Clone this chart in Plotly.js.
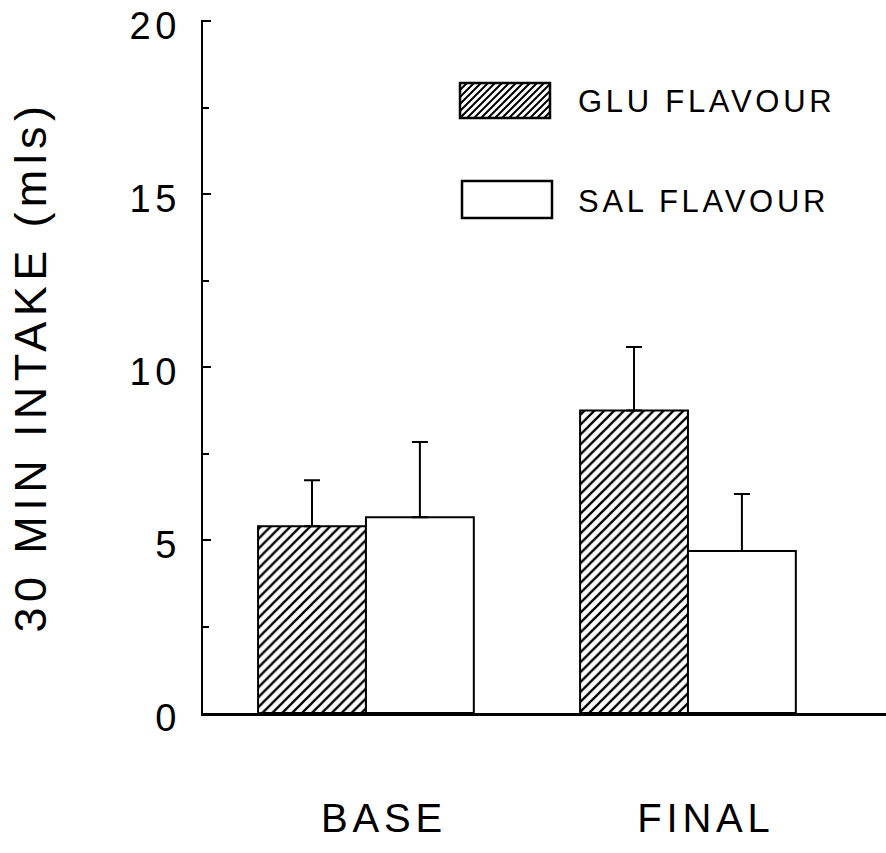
<!DOCTYPE html>
<html>
<head>
<meta charset="utf-8">
<script src="https://cdn.plot.ly/plotly-3.0.1.min.js"></script>
<style>
  html, body { margin: 0; padding: 0; background: #fff; }
  #chart { width: 886px; height: 853px; }
  /* typewriter-like spacing of the lettering */
  svg text { letter-spacing: 0.12em; }
</style>
</head>
<body>
<div id="chart"></div>
<script>
// Phases of the test
const phases = ['BASE', 'FINAL'];

// 30 min intake (mls), mean and SEM for each flavour
const gluMean = [5.40, 8.74];
const gluSem  = [1.33, 1.84];
const salMean = [5.66, 4.68];
const salSem  = [2.17, 1.65];

// Legend labels
const gluLabel = 'GLU FLAVOUR';
const salLabel = 'SAL FLAVOUR';

// Y axis tick values and labels
const yTickVals = [0, 5, 10, 15, 20];
const yTickText = ['0', '5', '10', '15', '20'];

const FONT = 'Liberation Sans, Arial, sans-serif';
const INK = '#000';

const zeros = phases.map(() => 0);

const glu = {
  type: 'bar', name: gluLabel, x: phases, y: gluMean,
  marker: {
    color: '#fff',
    line: { color: INK, width: 2 },
    pattern: { shape: '/', fgcolor: INK, bgcolor: '#fff', size: 7, solidity: 0.33 }
  },
  error_y: { type: 'data', symmetric: false, array: gluSem, arrayminus: zeros,
             color: INK, thickness: 2, width: 8 },
  hoverinfo: 'skip'
};
const sal = {
  type: 'bar', name: salLabel, x: phases, y: salMean,
  marker: { color: '#fff', line: { color: INK, width: 2 } },
  error_y: { type: 'data', symmetric: false, array: salSem, arrayminus: zeros,
             color: INK, thickness: 2, width: 8 },
  hoverinfo: 'skip'
};

// plot-area geometry in pixels, used to place the hand-drawn key
const L = 203, R = 886, T = 20, B = 713;
const px = v => (v - L) / (R - L);
const py = v => (B - v) / (B - T);

// key swatches
function hatchPath(x0, y0, x1, y1, step) {
  const h = y1 - y0;
  let d = '';
  for (let k = x0 - h; k < x1; k += step) {
    let sx = k, sy = y1, ex = k + h, ey = y0;
    if (sx < x0) { sy = y1 - (x0 - sx); sx = x0; }
    if (ex > x1) { ey = y0 + (ex - x1); ex = x1; }
    if (ex <= sx) continue;
    d += 'M' + px(sx).toFixed(5) + ',' + py(sy).toFixed(5) +
         'L' + px(ex).toFixed(5) + ',' + py(ey).toFixed(5);
  }
  return d;
}

const shapes = [
  { type: 'path', xref: 'paper', yref: 'paper', path: hatchPath(460, 83, 550, 118, 7),
    line: { color: INK, width: 2 } },
  { type: 'rect', xref: 'paper', yref: 'paper', x0: px(460), x1: px(550), y0: py(118), y1: py(83),
    line: { color: INK, width: 2.5 }, fillcolor: 'rgba(0,0,0,0)' },
  { type: 'rect', xref: 'paper', yref: 'paper', x0: px(462), x1: px(552), y0: py(218), y1: py(181),
    line: { color: INK, width: 2.5 }, fillcolor: 'rgba(0,0,0,0)' }
];

const annotations = [
  { xref: 'paper', yref: 'paper', x: px(576), y: py(102), xanchor: 'left', yanchor: 'middle',
    text: gluLabel, showarrow: false, font: { family: FONT, size: 31, color: INK } },
  { xref: 'paper', yref: 'paper', x: px(576), y: py(201), xanchor: 'left', yanchor: 'middle',
    text: salLabel, showarrow: false, font: { family: FONT, size: 31, color: INK } }
];

const layout = {
  width: 886, height: 853,
  margin: { l: L, r: 886 - R, t: T, b: 853 - B, pad: 0 },
  paper_bgcolor: '#fff', plot_bgcolor: '#fff',
  showlegend: false,
  barmode: 'group', bargap: 0.33, bargroupgap: 0,
  font: { family: FONT, color: INK },
  xaxis: {
    range: [-0.506, 1.615],
    showline: true, linecolor: INK, linewidth: 2.5,
    showgrid: false, zeroline: false, ticks: '',
    tickfont: { family: FONT, size: 40, color: INK },
    ticklabelstandoff: 68, ticklabelshift: 18
  },
  yaxis: {
    range: [0, 20.03],
    tickvals: yTickVals, ticktext: yTickText,
    showline: true, linecolor: INK, linewidth: 2.5,
    showgrid: false, zeroline: false,
    ticks: 'inside', ticklen: 8, tickwidth: 2, tickcolor: INK,
    minor: { tickvals: [2.5, 7.5, 12.5, 17.5], ticks: 'inside', ticklen: 6, tickwidth: 2,
             tickcolor: INK, showgrid: false },
    tickfont: { family: FONT, size: 38, color: INK },
    ticklabelstandoff: 12, ticklabelshift: 5, ticklabeloverflow: 'allow',
    title: { text: '30 MIN INTAKE (mls)', font: { family: FONT, size: 45, color: INK }, standoff: 69 }
  },
  shapes: shapes,
  annotations: annotations
};

Plotly.newPlot('chart', [glu, sal], layout, { staticPlot: true, displayModeBar: false });
</script>
</body>
</html>
